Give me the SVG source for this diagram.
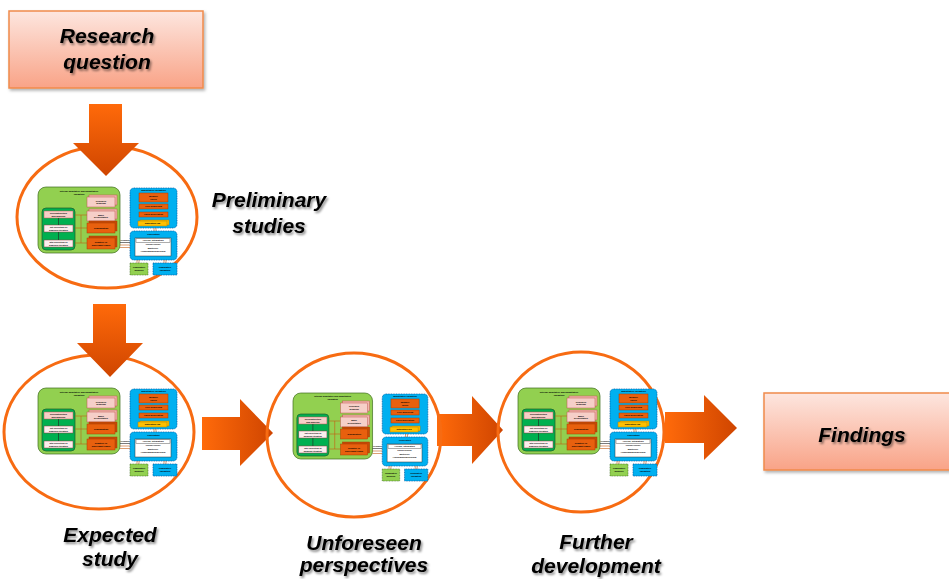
<svg xmlns="http://www.w3.org/2000/svg" xmlns:xlink="http://www.w3.org/1999/xlink" width="949" height="579" viewBox="0 0 949 579">
<defs>
  <style>
    .lbl { font-family: "Liberation Sans", Arial, sans-serif; font-weight: bold; font-style: italic; font-size: 21px; fill: #000; text-anchor: middle; filter: url(#tshadow); }
    .ring { fill: none; stroke: #f76b12; stroke-width: 3; }
    .box { fill: url(#boxGrad); stroke: #f08a4b; stroke-width: 1.5; filter: url(#bshadow); }
    .arrH { fill: url(#arrGradH); }
    .arrV { fill: url(#arrGradV); }
    .m { font-family: "Liberation Sans", Arial, sans-serif; font-weight: bold; fill: #000; text-anchor: middle; font-size: 2.3px; }
    .grn { fill: #92d050; stroke: #3d6b1e; stroke-width: 0.7; }
    .dgrn { fill: #00b050; stroke: #1d5a2a; stroke-width: 0.7; }
    .pink { fill: #f6cfc8; stroke: #c0504d; stroke-width: 0.5; }
    .pinkb { fill: #efb6ad; stroke: #c0504d; stroke-width: 0.5; }
    .wbox { fill: #fbeeee; stroke: #8a3a3a; stroke-width: 0.5; }
    .org { fill: #e8600e; stroke: #a83e00; stroke-width: 0.5; }
    .orgb { fill: #c74a06; stroke: #a83e00; stroke-width: 0.5; }
    .yel { fill: #ffc000; stroke: #b08000; stroke-width: 0.5; }
    .blu { fill: #00b0f0; stroke: #0b5fa5; stroke-width: 0.8; stroke-dasharray: 1 0.7; }
    .ln { stroke: #c55a11; stroke-width: 0.6; fill: none; }
    .lk { stroke: #222; stroke-width: 0.6; fill: none; }
  </style>
  <linearGradient id="boxGrad" x1="0" y1="0" x2="0" y2="1">
    <stop offset="0" stop-color="#fde6df"/>
    <stop offset="1" stop-color="#f9a387"/>
  </linearGradient>
  <linearGradient id="arrGradH" x1="0" y1="0" x2="1" y2="0">
    <stop offset="0" stop-color="#ff6a0a"/>
    <stop offset="1" stop-color="#cf4500"/>
  </linearGradient>
  <linearGradient id="arrGradV" x1="0" y1="0" x2="0" y2="1">
    <stop offset="0" stop-color="#ff6a0a"/>
    <stop offset="1" stop-color="#cf4500"/>
  </linearGradient>
  <filter id="tshadow" x="-10%" y="-30%" width="130%" height="170%">
    <feDropShadow dx="1.5" dy="2" stdDeviation="1.3" flood-color="#000" flood-opacity="0.45"/>
  </filter>
  <filter id="bshadow" x="-5%" y="-10%" width="115%" height="130%">
    <feDropShadow dx="1.5" dy="2" stdDeviation="1.5" flood-color="#000" flood-opacity="0.3"/>
  </filter>
  <g id="mini">
    <rect class="grn" x="0" y="0" width="82" height="66" rx="8"/>
    <text class="m" x="41" y="4.5">Internal qualitative and quantitative</text>
    <text class="m" x="41" y="7.5">validation</text>
    <rect class="dgrn" x="4" y="21" width="33" height="42" rx="4"/>
    <rect class="pink" x="6" y="24" width="29" height="7"/>
    <text class="m" x="20.5" y="27">Reconstruction</text>
    <text class="m" x="20.5" y="29.8">and analysis</text>
    <rect class="wbox" x="6" y="38" width="29" height="7"/>
    <text class="m" x="20.5" y="41">1st collection of</text>
    <text class="m" x="20.5" y="43.8">analysis iteration</text>
    <rect class="wbox" x="6" y="53" width="29" height="7"/>
    <text class="m" x="20.5" y="56">Nth collection of</text>
    <text class="m" x="20.5" y="58.8">analysis iteration</text>
    <path class="lk" d="M20.5 31V38M20.5 45V53"/>
    <path class="ln" d="M37 28H49M43 28V56M37 41H49M37 56H49"/>
    <rect class="pinkb" x="51" y="8" width="28" height="10"/>
    <rect class="pink" x="49" y="10" width="28" height="10"/>
    <text class="m" x="63" y="14.5">Research</text>
    <text class="m" x="63" y="17.3">proposal</text>
    <rect class="pinkb" x="51" y="22" width="28" height="10"/>
    <rect class="pink" x="49" y="24" width="28" height="10"/>
    <text class="m" x="63" y="28.5">Basic</text>
    <text class="m" x="63" y="31.3">presentation</text>
    <rect class="orgb" x="51" y="34" width="28" height="10"/>
    <rect class="org" x="49" y="36" width="28" height="10"/>
    <text class="m" x="63" y="41.8">Triangulation</text>
    <rect class="orgb" x="51" y="49" width="28" height="11"/>
    <rect class="org" x="49" y="51" width="28" height="11"/>
    <text class="m" x="63" y="55.8">Negative or</text>
    <text class="m" x="63" y="58.6">discrepant cases</text>
    <rect class="blu" x="92" y="1" width="47" height="40" rx="4"/>
    <text class="m" x="115.5" y="4.3">Quantitative validation</text>
    <rect class="org" x="101" y="6" width="29" height="9"/>
    <text class="m" x="115.5" y="10">Member</text>
    <text class="m" x="115.5" y="12.8">check</text>
    <rect class="org" x="101" y="17" width="29" height="5"/>
    <text class="m" x="115.5" y="20.3">Peer debriefing</text>
    <rect class="org" x="101" y="25" width="29" height="5"/>
    <text class="m" x="115.5" y="28.3">Thick description</text>
    <rect class="yel" x="102" y="33" width="29" height="5"/>
    <rect class="yel" x="100" y="34" width="29" height="5"/>
    <text class="m" x="114.5" y="37.3">Saturation log</text>
    <path class="ln" d="M116 41V44M118 41V44"/>
    <rect class="blu" x="92" y="44" width="47" height="29" rx="4"/>
    <text class="m" x="115.5" y="48">Publication</text>
    <rect x="97" y="51" width="36" height="18" fill="#fff" stroke="#333" stroke-width="0.5"/>
    <rect x="98" y="51.8" width="34" height="3.4" fill="#fff" stroke="#333" stroke-width="0.4"/>
    <text class="m" x="115" y="54.3">Access, integration</text>
    <text class="m" x="115" y="58.3">Online/Offline</text>
    <text class="m" x="115" y="61.6">Multilevel</text>
    <text class="m" x="115" y="65">Anonymous/Disclosed</text>
    <text class="m" x="87" y="54" style="font-size:2px">Feedback</text>
    <path class="lk" d="M92 55.5H82"/>
    <path class="ln" d="M82 58H92M82 60.5H92"/>
    <path class="ln" d="M99 73V76M101 73V76M126 73V76M128 73V76"/>
    <rect x="92" y="76" width="18" height="12" fill="#92d050" stroke="#3d6b1e" stroke-width="0.6" stroke-dasharray="1 0.6"/>
    <text class="m" x="101" y="81">Cumulative</text>
    <text class="m" x="101" y="83.8">analysis</text>
    <rect class="blu" x="115" y="76" width="24" height="12"/>
    <text class="m" x="127" y="81">Cumulative</text>
    <text class="m" x="127" y="83.8">validation</text>
  </g>
</defs>
<rect width="949" height="579" fill="#fff"/>

<g id="connectors-h">
  <polygon class="arrH" points="202,417 240,417 240,399 273,433 240,466 240,450 202,450"/>
  <polygon class="arrH" points="437,414 472,414 472,396 503,430 472,464 472,446 437,446"/>
  <polygon class="arrH" points="665,412 704,412 704,395 737,428 704,460 704,443 665,443"/>
</g>

<g id="node-research">
  <rect class="box" x="9" y="11" width="194" height="77"/>
  <text class="lbl" x="107" y="43">Research</text>
  <text class="lbl" x="107" y="69">question</text>
</g>

<g id="node-preliminary">
  <ellipse class="ring" cx="107" cy="217" rx="90" ry="71"/>
  <use xlink:href="#mini" transform="translate(38,187)"/>
  <text class="lbl" x="269" y="207">Preliminary</text>
  <text class="lbl" x="269" y="233">studies</text>
</g>

<g id="node-expected">
  <ellipse class="ring" cx="99" cy="432" rx="95" ry="77"/>
  <use xlink:href="#mini" transform="translate(38,388)"/>
  <text class="lbl" x="110" y="542">Expected</text>
  <text class="lbl" x="110" y="566">study</text>
</g>

<g id="node-unforeseen">
  <ellipse class="ring" cx="354" cy="435" rx="87" ry="82"/>
  <use xlink:href="#mini" transform="translate(293,393) scale(0.97,1)"/>
  <text class="lbl" x="364" y="550">Unforeseen</text>
  <text class="lbl" x="364" y="572">perspectives</text>
</g>

<g id="node-further">
  <ellipse class="ring" cx="581" cy="432" rx="83" ry="80"/>
  <use xlink:href="#mini" transform="translate(518,388)"/>
  <text class="lbl" x="596" y="549">Further</text>
  <text class="lbl" x="596" y="573">development</text>
</g>

<g id="node-findings">
  <rect class="box" x="764" y="393" width="190" height="77"/>
  <text class="lbl" x="862" y="442">Findings</text>
</g>

<g id="connectors-v">
  <polygon class="arrV" points="89,104 122,104 122,143 139,143 106,176 73,143 89,143"/>
  <polygon class="arrV" points="93,304 126,304 126,343 143,343 110,377 77,343 93,343"/>
</g>
</svg>
